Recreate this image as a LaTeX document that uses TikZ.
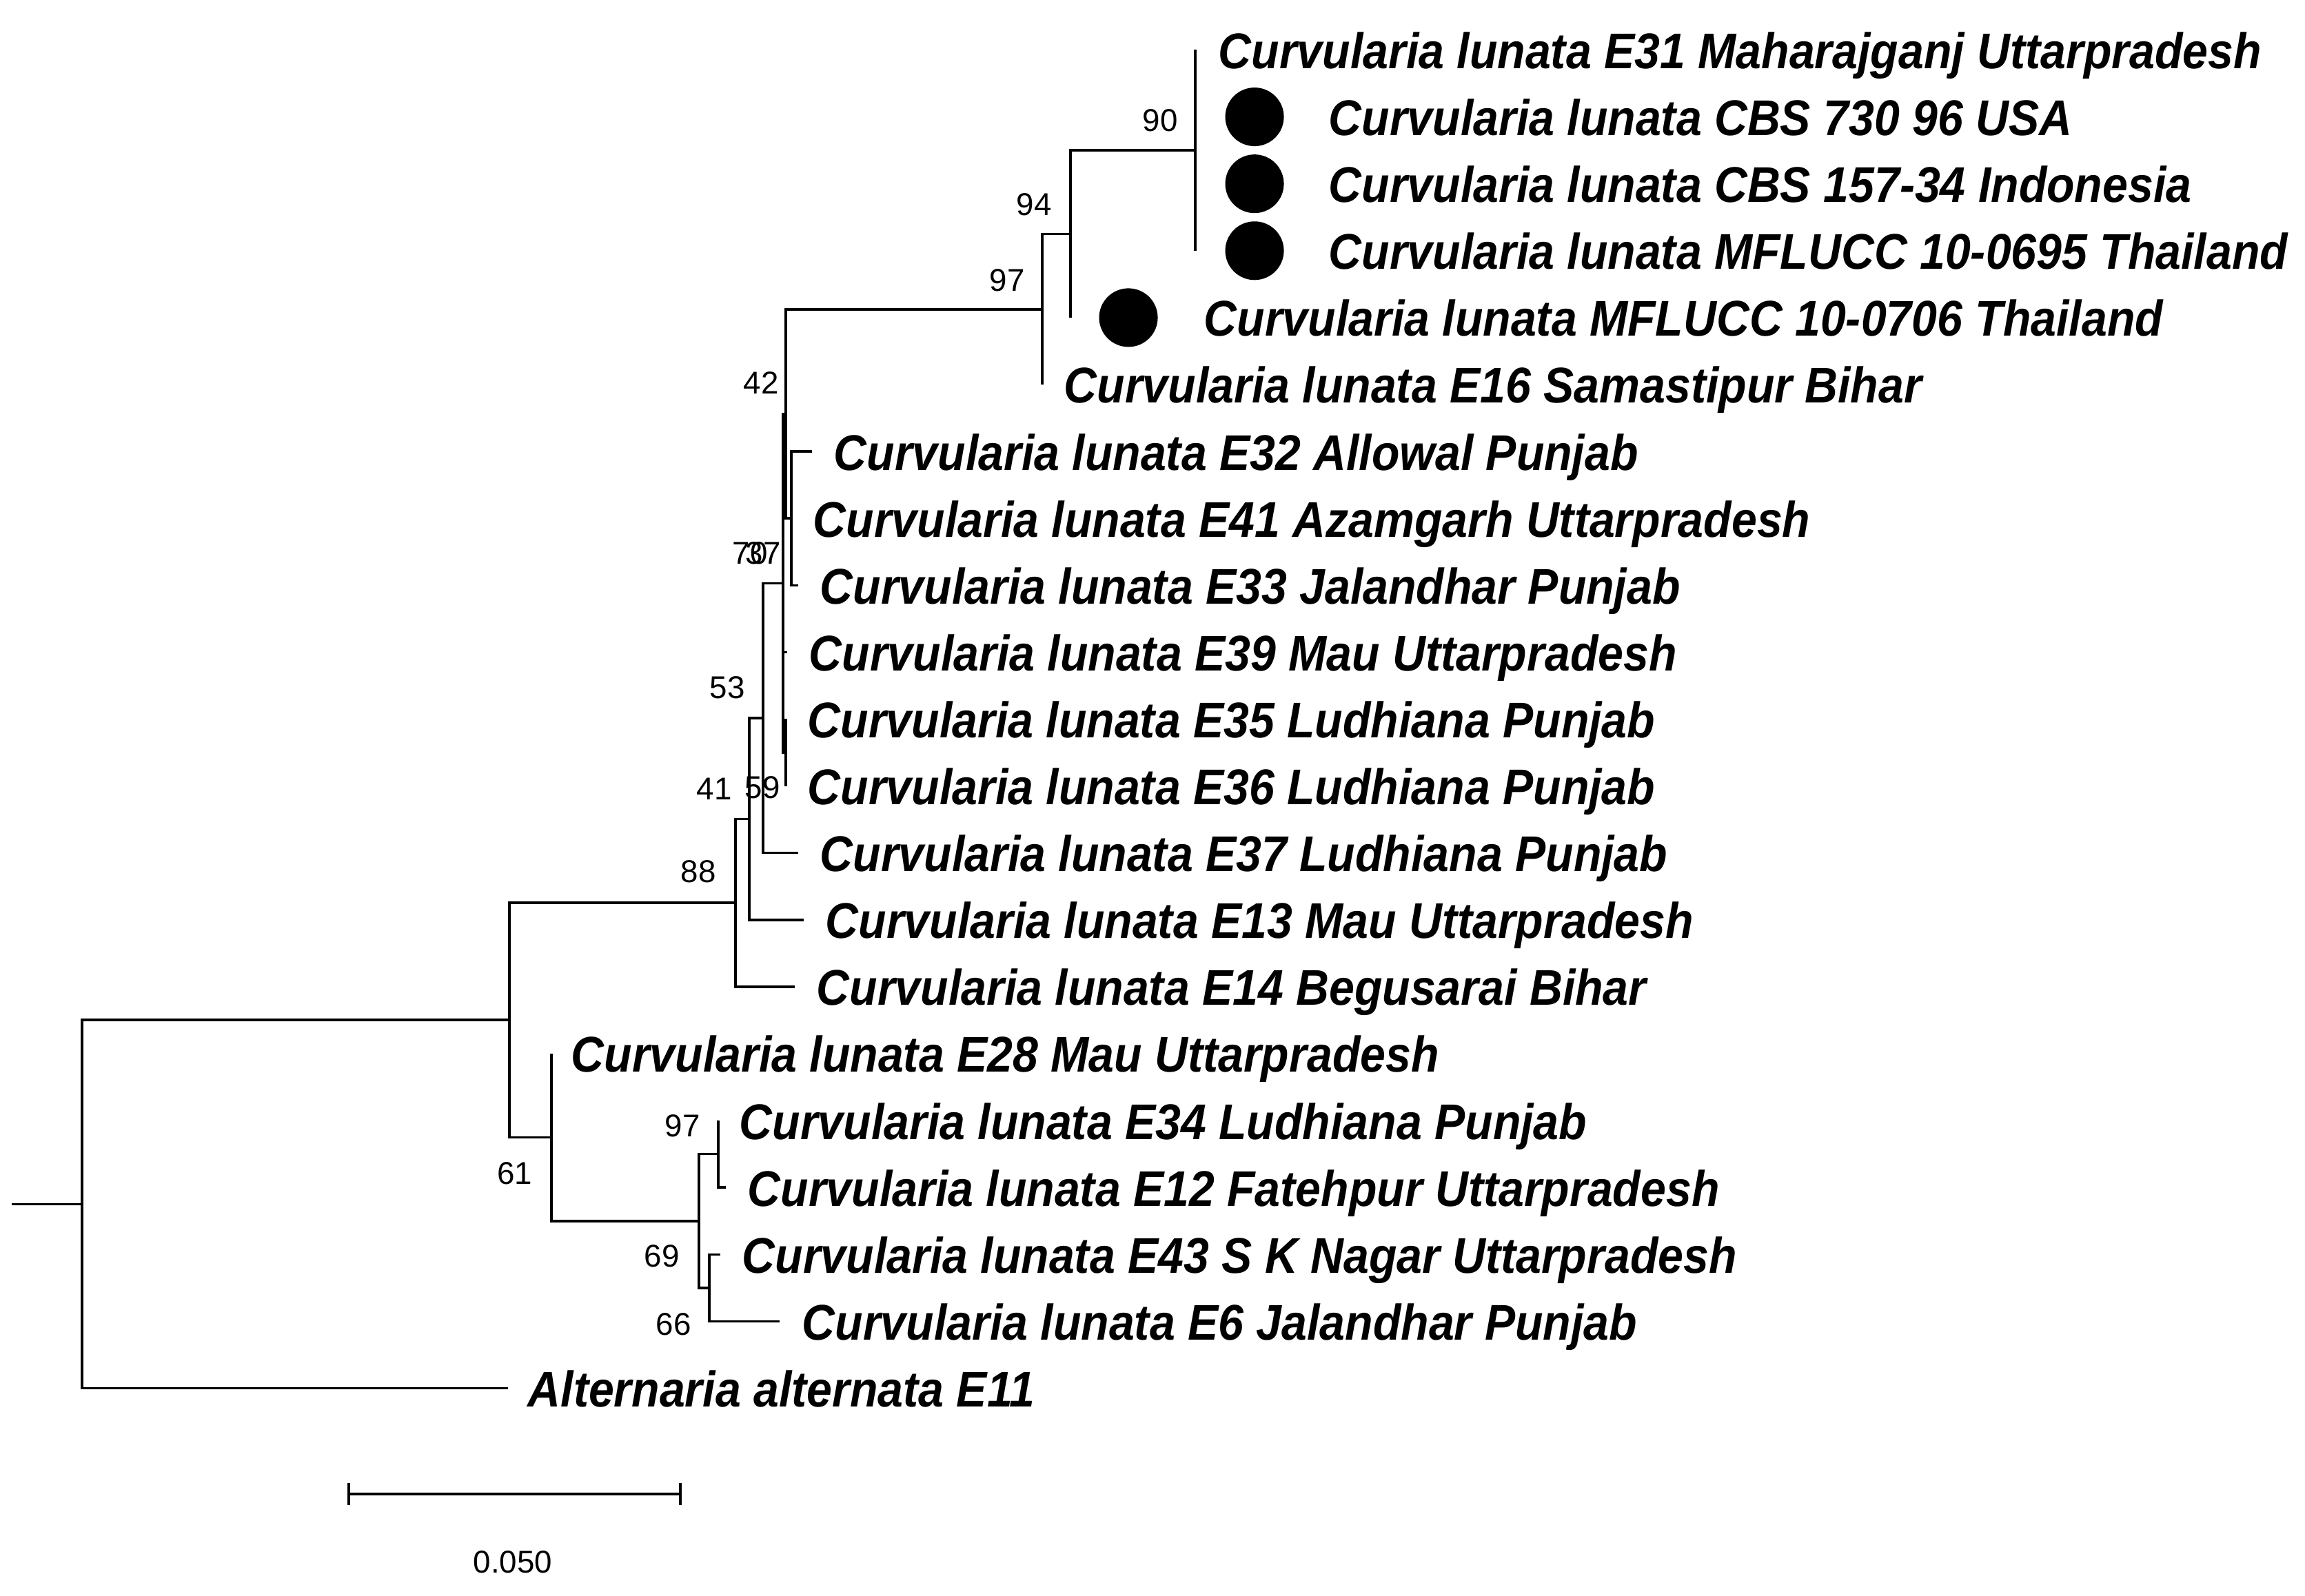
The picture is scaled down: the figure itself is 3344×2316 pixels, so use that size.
\documentclass[tikz,border=0pt]{standalone}
\usepackage{fontspec}
\setmainfont{Liberation Sans}
\newfontfamily\taxfont[FakeStretch=0.91]{Liberation Sans}
\usetikzlibrary{arrows.meta}
\usetikzlibrary{positioning}

\begin{document}
\begin{tikzpicture}[x=0.01cm,y=-0.01cm,line width=1pt,
    leaf/.style={anchor=base west,inner sep=0pt,font=\taxfont\bfseries\itshape\fontsize{20.7}{24}\selectfont},
    boot/.style={inner sep=0pt,font=\fontsize{13}{15}\selectfont},
    isolate/.style={circle,fill,inner sep=0pt,minimum size=0.85cm}]
    \useasboundingbox (0,0) rectangle (3344,2316);

    % inner nodes
    \coordinate (stub) at (17,1747.4);
    \coordinate (root) at (119,1747.4);
    \coordinate (nIn) at (739,1480.2);
    \coordinate (n88) at (1067,1310);
    \coordinate (n41) at (1087,1188.4);
    \coordinate (n53) at (1107,1042);
    \coordinate (n70) at (1136,846.3);
    \coordinate (n42) at (1140,600.5);
    \coordinate (nX) at (1148,752.2);
    \coordinate (nZ) at (1140,1092);
    \coordinate (n97a) at (1512,448.8);
    \coordinate (n94) at (1553,339.5);
    \coordinate (n90) at (1734,218.2);
    \coordinate (n61) at (800,1650.4);
    \coordinate (n69) at (1014,1771.8);
    \coordinate (n97b) at (1042,1674.7);
    \coordinate (n66) at (1029,1868.9);

    % tips
    \coordinate (t1) at (1734,72.5);
    \coordinate (t2) at (1734,169.6);
    \coordinate (t3) at (1734,266.7);
    \coordinate (t4) at (1734,363.8);
    \coordinate (t5) at (1553,460.9);
    \coordinate (t6) at (1512,558);
    \coordinate (t7) at (1178,655.1);
    \coordinate (t8) at (1148,752.2);
    \coordinate (t9) at (1158,849.3);
    \coordinate (t10) at (1142,946.4);
    \coordinate (t11) at (1140,1043.5);
    \coordinate (t12) at (1140,1140.6);
    \coordinate (t13) at (1158,1237.7);
    \coordinate (t14) at (1166,1334.8);
    \coordinate (t15) at (1153,1431.9);
    \coordinate (t16) at (800,1529);
    \coordinate (t17) at (1042,1626.1);
    \coordinate (t18) at (1053,1723.2);
    \coordinate (t19) at (1045,1820.3);
    \coordinate (t20) at (1131,1917.4);
    \coordinate (t21) at (737,2014.5);

    % branches
    \draw (stub) -- (root);
    \draw (root) |- (nIn) (root) |- (t21);
    \draw (nIn) |- (n88) (nIn) |- (n61);
    \draw (n88) |- (n41) (n88) |- (t15);
    \draw (n41) |- (n53) (n41) |- (t14);
    \draw (n53) |- (n70) (n53) |- (t13);
    \draw (n70) |- (n42) (n70) |- (t10) (n70) |- (nZ);
    \draw (nZ) |- (t11) (nZ) |- (t12);
    \draw (n42) |- (n97a) (n42) |- (nX);
    \draw (nX) |- (t7) (nX) |- (t8) (nX) |- (t9);
    \draw (n97a) |- (n94) (n97a) |- (t6);
    \draw (n94) |- (n90) (n94) |- (t5);
    \draw (n90) |- (t1) (n90) |- (t2) (n90) |- (t3) (n90) |- (t4);
    \draw (n61) |- (t16) (n61) |- (n69);
    \draw (n69) |- (n97b) (n69) |- (n66);
    \draw (n97b) |- (t17) (n97b) |- (t18);
    \draw (n66) |- (t19) (n66) |- (t20);

    % taxa
    \node[leaf] (l1) at ([shift={(32,27)}]t1) {Curvularia lunata E31 Maharajganj Uttarpradesh};
    \node[isolate] (d2) at ([xshift=0.86cm]t2) {};
    \node[leaf] (l2) at ([shift={(192,27)}]t2) {Curvularia lunata CBS 730 96 USA};
    \node[isolate] (d3) at ([xshift=0.86cm]t3) {};
    \node[leaf] (l3) at ([shift={(192,27)}]t3) {Curvularia lunata CBS 157-34 Indonesia};
    \node[isolate] (d4) at ([xshift=0.86cm]t4) {};
    \node[leaf] (l4) at ([shift={(192,27)}]t4) {Curvularia lunata MFLUCC 10-0695 Thailand};
    \node[isolate] (d5) at ([xshift=0.84cm]t5) {};
    \node[leaf] (l5) at ([shift={(192,27)}]t5) {Curvularia lunata MFLUCC 10-0706 Thailand};
    \node[leaf] (l6) at ([shift={(30,27)}]t6) {Curvularia lunata E16 Samastipur Bihar};
    \node[leaf] (l7) at ([shift={(30,27)}]t7) {Curvularia lunata E32 Allowal Punjab};
    \node[leaf] (l8) at ([shift={(30,27)}]t8) {Curvularia lunata E41 Azamgarh Uttarpradesh};
    \node[leaf] (l9) at ([shift={(30,27)}]t9) {Curvularia lunata E33 Jalandhar Punjab};
    \node[leaf] (l10) at ([shift={(30,27)}]t10) {Curvularia lunata E39 Mau Uttarpradesh};
    \node[leaf] (l11) at ([shift={(30,27)}]t11) {Curvularia lunata E35 Ludhiana Punjab};
    \node[leaf] (l12) at ([shift={(30,27)}]t12) {Curvularia lunata E36 Ludhiana Punjab};
    \node[leaf] (l13) at ([shift={(30,27)}]t13) {Curvularia lunata E37 Ludhiana Punjab};
    \node[leaf] (l14) at ([shift={(30,27)}]t14) {Curvularia lunata E13 Mau Uttarpradesh};
    \node[leaf] (l15) at ([shift={(30,27)}]t15) {Curvularia lunata E14 Begusarai Bihar};
    \node[leaf] (l16) at ([shift={(27,27)}]t16) {Curvularia lunata E28 Mau Uttarpradesh};
    \node[leaf] (l17) at ([shift={(29,27)}]t17) {Curvularia lunata E34 Ludhiana Punjab};
    \node[leaf] (l18) at ([shift={(30,27)}]t18) {Curvularia lunata E12 Fatehpur Uttarpradesh};
    \node[leaf] (l19) at ([shift={(30,27)}]t19) {Curvularia lunata E43 S K Nagar Uttarpradesh};
    \node[leaf] (l20) at ([shift={(31,27)}]t20) {Curvularia lunata E6 Jalandhar Punjab};
    \node[leaf] (l21) at ([shift={(27,27)}]t21) {Alternaria alternata E11};

    % bootstrap values
    \node[boot] (b90) at ([shift={(-51,-43)}]n90) {90};
    \node[boot] (b94) at ([shift={(-53,-43)}]n94) {94};
    \node[boot] (b97a) at ([shift={(-51,-42)}]n97a) {97};
    \node[boot] (b42) at ([shift={(-36,-45)}]n42) {42};
    \node[boot] (b70) at ([shift={(-48,-44)}]n70) {70};
    \node[boot] (b37) at ([shift={(-29,-44)}]n70) {37};
    \node[boot] (b53) at ([shift={(-52,-44)}]n53) {53};
    \node[boot] (b41) at ([shift={(-51,-44)}]n41) {41};
    \node[boot] (b59) at ([shift={(-34,51)}]nZ) {59};
    \node[boot] (b88) at ([shift={(-54,-45)}]n88) {88};
    \node[boot] (b61) at ([shift={(-53,52)}]n61) {61};
    \node[boot] (b97b) at ([shift={(-52,-41)}]n97b) {97};
    \node[boot] (b69) at ([shift={(-54,51)}]n69) {69};
    \node[boot] (b66) at ([shift={(-52,53)}]n66) {66};

    % scale
    \coordinate (sb0) at (504,2168);
    \coordinate (sb1) at (989,2168);
    \draw[{Bar[width=0.32cm]}-{Bar[width=0.32cm]}] (sb0) -- (sb1);
    \node[boot] (sbl) at (744,2267) {0.050};
\end{tikzpicture}
\end{document}
